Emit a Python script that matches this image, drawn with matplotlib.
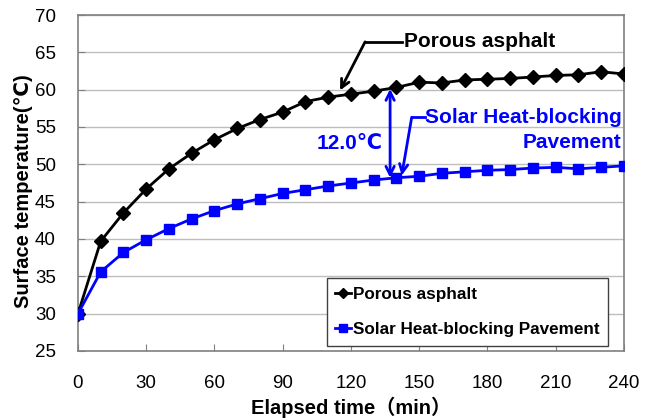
import numpy as np
import matplotlib
matplotlib.use("Agg")
import matplotlib.pyplot as plt

plt.rcParams["font.family"] = ["Liberation Sans", "DejaVu Sans", "Noto Sans CJK JP"]

# elapsed time (min)
minutes = list(range(0, 250, 10))

# surface temperature (deg C)
porous = [30.0, 39.7, 43.5, 46.7, 49.4, 51.5, 53.3, 54.8, 56.0, 57.0,
          58.4, 59.0, 59.4, 59.8, 60.3, 61.0, 60.9, 61.3, 61.4, 61.5,
          61.7, 61.9, 62.0, 62.4, 62.1]
solar = [30.0, 35.6, 38.2, 39.9, 41.4, 42.7, 43.8, 44.7, 45.4, 46.1,
         46.6, 47.1, 47.5, 47.9, 48.2, 48.4, 48.8, 49.0, 49.2, 49.3,
         49.5, 49.6, 49.4, 49.6, 49.8]

x_ticks = [0, 30, 60, 90, 120, 150, 180, 210, 240]
y_ticks = [25, 30, 35, 40, 45, 50, 55, 60, 65, 70]

fig = plt.figure(figsize=(6.52, 4.19), dpi=100)
ax = fig.add_axes([0.1196, 0.1623, 0.8374, 0.8019])

ax.plot(minutes, porous, color="black", lw=2, marker="D", ms=7,
        label="Porous asphalt", zorder=3)
ax.plot(minutes, solar, color="#0000ff", lw=2, marker="s", ms=6.5,
        label="Solar Heat-blocking Pavement", zorder=3)

ax.set_xlim(0, 240)
ax.set_ylim(25, 70)
ax.set_xticks(x_ticks)
ax.set_yticks(y_ticks)
ax.yaxis.grid(True, color="#bdbdbd", lw=1)
ax.set_axisbelow(True)
for s in ax.spines.values():
    s.set_color("#808080")
    s.set_linewidth(1.2)
ax.tick_params(direction="in", length=5, color="#808080", labelsize=13.5)
ax.tick_params(axis="x", pad=17)
ax.tick_params(axis="y", pad=16)

ax.set_xlabel("Elapsed time（min）", fontsize=14.5, fontweight="bold",
              family=["Liberation Sans", "Noto Sans CJK JP"], labelpad=4)
ax.set_ylabel("Surface temperature(℃)", fontsize=14.5, fontweight="bold")
ax.yaxis.set_label_coords(-0.083, 0.476)

# callout for porous asphalt
ax.plot([126.2, 142.5], [66.4, 66.4], color="black", lw=2)
ax.annotate("", xy=(115.2, 59.9), xytext=(126.2, 66.4),
            arrowprops=dict(arrowstyle="->,head_length=0.6,head_width=0.3", color="black", lw=2,
                            shrinkA=0, shrinkB=0))
ax.text(143.3, 66.4, "Porous asphalt", fontsize=15, fontweight="bold",
        va="center", ha="left")

# difference arrow
ax.annotate("", xy=(137.2, 60.1), xytext=(137.2, 48.2),
            arrowprops=dict(arrowstyle="<->,head_length=0.6,head_width=0.3", color="#0000ff", lw=2,
                            shrinkA=0, shrinkB=0))
ax.text(133.8, 52.8, "12.0℃", fontsize=15, fontweight="bold", color="#0000ff",
        va="center", ha="right")

# callout for solar heat-blocking pavement
ax.plot([146.7, 152.5], [56.3, 56.3], color="#0000ff", lw=2)
ax.annotate("", xy=(142.3, 48.5), xytext=(146.7, 56.3),
            arrowprops=dict(arrowstyle="->,head_length=0.6,head_width=0.3", color="#0000ff", lw=2,
                            shrinkA=0, shrinkB=0))
ax.text(239, 54.65, "Solar Heat-blocking\nPavement", fontsize=15, fontweight="bold",
        color="#0000ff", va="center", ha="right", linespacing=1.4,
        multialignment="right")

leg = ax.legend(loc="lower left", bbox_to_anchor=(0.4555, 0.016), borderaxespad=0,
                fancybox=False, edgecolor="#404040", framealpha=1,
                prop=dict(size=12.3, weight="bold"), handlelength=0.95,
                handletextpad=0.1, labelspacing=1.2, borderpad=0.5, markerscale=0.8)
leg.get_frame().set_linewidth(1)

fig.savefig("out.png", dpi=100)
